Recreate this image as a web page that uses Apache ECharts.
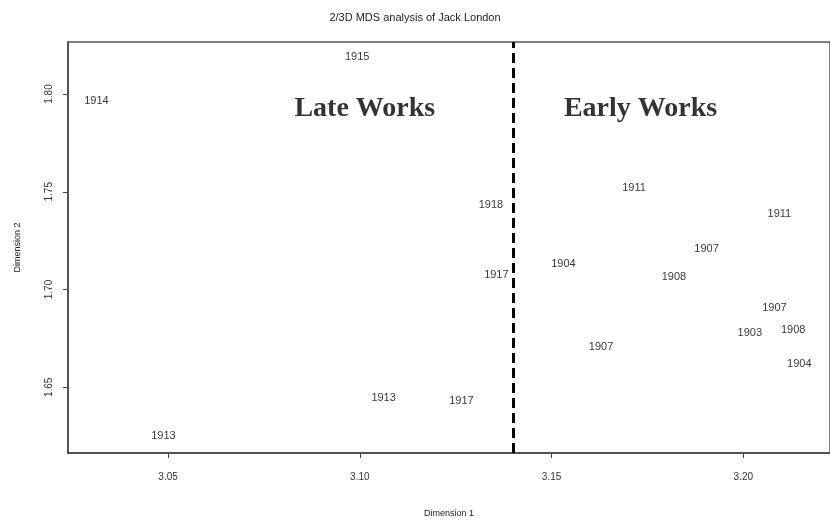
<!DOCTYPE html>
<html>
<head>
<meta charset="utf-8">
<script src="https://cdn.jsdelivr.net/npm/echarts@6/dist/echarts.min.js"></script>
<style>html,body{margin:0;padding:0;background:#fff}#c{width:830px;height:523px}</style>
</head>
<body>
<div id="c"></div>
<script>
// Point labels (year of work) and their MDS coordinates
var years = ['1915','1914','1918','1917','1913','1917','1913','1911','1911','1907','1904','1908','1907','1903','1908','1907','1904'];
var dim1  = [3.0993,3.0313,3.1342,3.1356,3.1062,3.1265,3.0488,3.1715,3.2094,3.1904,3.1531,3.1819,3.2081,3.2017,3.2130,3.1629,3.2146];
var dim2  = [1.8189,1.7966,1.7435,1.7072,1.6448,1.6431,1.6249,1.7518,1.7384,1.7207,1.7132,1.7063,1.6906,1.6776,1.6792,1.6706,1.6617];
// Divider and region annotations
var dividerX = 3.1446;
var regionNames = ['Late Works','Early Works'];
var regionX = [3.1013, 3.1732];
var regionY = [1.7925, 1.7925];
// Axis ticks
var xTicks = [3.05, 3.10, 3.15, 3.20];
var yTicks = [1.65, 1.70, 1.75, 1.80];

var pts = years.map(function(y,i){ return [dim1[i], dim2[i], y]; });
var regs = regionNames.map(function(n,i){ return [regionX[i], regionY[i], n]; });

var chart = echarts.init(document.getElementById('c'), null, {renderer:'canvas'});
var font = 'Liberation Sans, Arial, sans-serif';
chart.setOption({
  animation: false,
  backgroundColor: '#fff',
  title: {
    text: '2/3D MDS analysis of Jack London',
    left: 'center', top: 7,
    textStyle: {fontFamily: font, fontSize: 11, fontWeight: 'normal', color: '#222'}
  },
  grid: {left: 68, top: 42, right: -10, bottom: 62, show: true, borderColor: '#555', borderWidth: 1.5, backgroundColor: '#fff'},
  xAxis: {
    type: 'value', min: 3.0239, max: 3.2226,
    name: 'Dimension 1', nameLocation: 'middle', nameGap: 56,
    nameTextStyle: {fontFamily: font, fontSize: 9, color: '#222'},
    axisLine: {show: true, onZero: false, lineStyle: {color: '#444', width: 1.5}},
    axisTick: {show: true, length: 5, lineStyle: {color: '#444'}, customValues: xTicks},
    axisLabel: {fontFamily: font, fontSize: 10, color: '#333', margin: 19, customValues: xTicks,
      formatter: function(v){ return v.toFixed(2); }},
    splitLine: {show: false}
  },
  yAxis: {
    type: 'value', min: 1.6164, max: 1.8266,
    name: 'Dimension 2', nameLocation: 'middle', nameGap: 46,
    nameTextStyle: {fontFamily: font, fontSize: 9, color: '#222'},
    axisLine: {show: true, onZero: false, lineStyle: {color: '#444', width: 1.5}},
    axisTick: {show: true, length: 5, lineStyle: {color: '#444'}, customValues: yTicks},
    axisLabel: {fontFamily: font, fontSize: 10, color: '#333', margin: 14, rotate: 90, customValues: yTicks,
      formatter: function(v){ return v.toFixed(2); }},
    splitLine: {show: false}
  },
  series: [
    {
      type: 'scatter', data: pts, symbolSize: 0, silent: true,
      label: {show: true, position: 'inside', formatter: function(p){ return p.value[2]; },
        fontFamily: font, fontSize: 11, color: '#000'},
      markLine: {
        silent: true, symbol: 'none', label: {show: false},
        lineStyle: {color: '#000', type: [10, 5], width: 3},
        data: [{xAxis: dividerX}]
      }
    },
    {
      type: 'scatter', data: regs, symbolSize: 0, silent: true,
      label: {show: true, position: 'inside', formatter: function(p){ return p.value[2]; },
        fontFamily: 'Liberation Serif, Times New Roman, serif', fontSize: 28, fontWeight: 'bold', color: '#000'}
    }
  ]
});
</script>
</body>
</html>
